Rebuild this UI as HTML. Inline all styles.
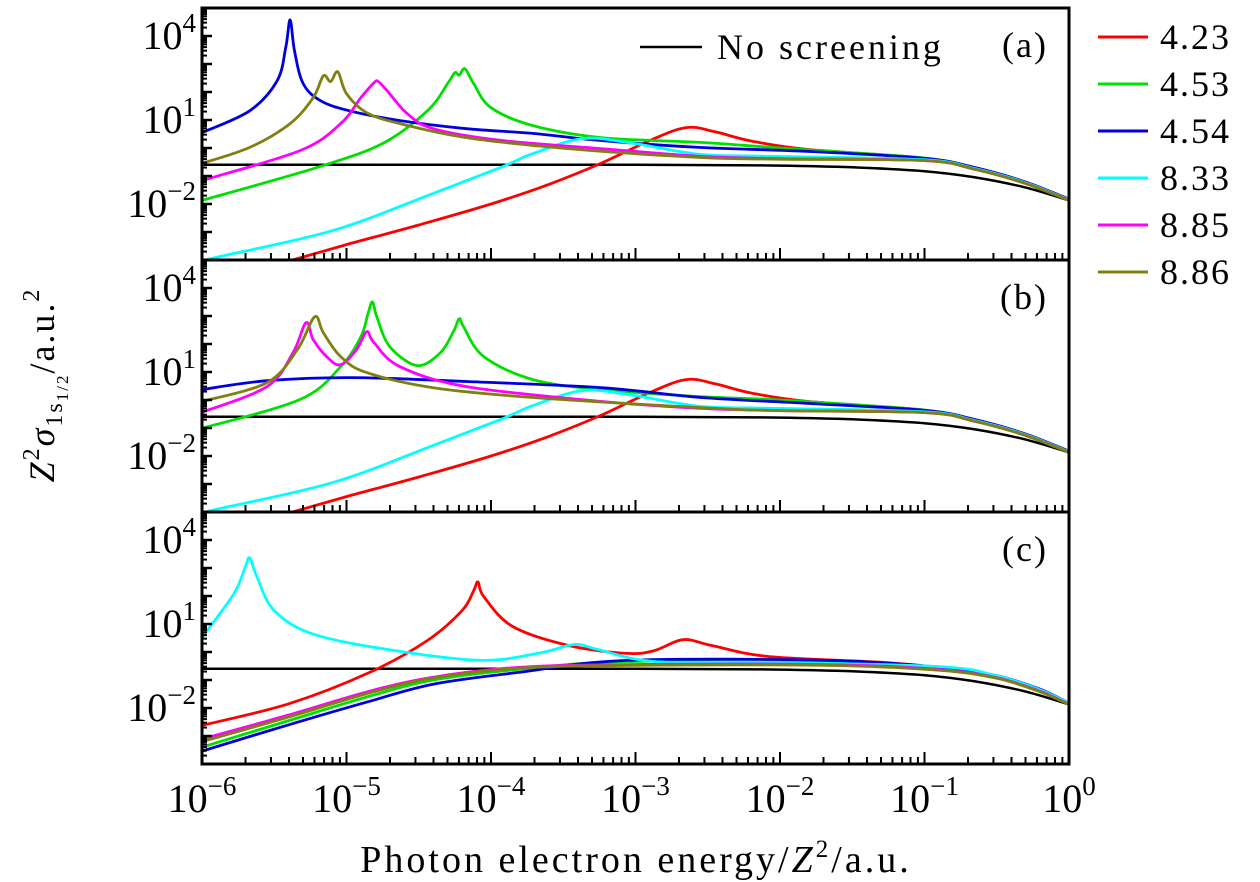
<!DOCTYPE html>
<html><head><meta charset="utf-8">
<style>
body{margin:0;background:#fff;}
svg{display:block;font-family:"Liberation Serif","DejaVu Serif",serif;}
</style></head>
<body>
<svg id="chart" width="1260" height="882" viewBox="0 0 1260 882"></svg>
<script>
// ---- data (log10 energy, log10 Z^2 sigma) ----
const panels = ["a","b","c"];
const legendLabels = ["4.23","4.53","4.54","8.33","8.85","8.86"];
const seriesColors = ["#ff0000","#00e000","#0000dd","#00ffff","#ff00ff","#808010"];
const xTickExps = [-6,-5,-4,-3,-2,-1,0];
const yTickExps = [4,1,-2];

const noScrLogE = [-6,-3,-2,-1.5,-1,-0.66,-0.31,0];
const noScrLogS = [-0.6,-0.6,-0.63,-0.69,-0.83,-1.04,-1.4,-1.87];

// panel (a)
const aRedE = [-5.6,-5.34,-5,-4.5,-4,-3.6,-3.24,-2.9,-2.65,-2.45,-2.2,-1.81,-1,-0.66,-0.31,0];
const aRedS = [-4.35,-3.95,-3.45,-2.75,-2.0,-1.3,-0.55,0.27,0.73,0.58,0.25,-0.05,-0.36,-0.69,-1.2,-1.83];
const aGreenE = [-6,-5.2,-4.75,-4.44,-4.3,-4.25,-4.22,-4.18,-4.12,-4.0,-3.71,-3.24,-2.55,-2,-1,-0.66,-0.31,0];
const aGreenS = [-1.87,-0.69,0.16,1.33,2.3,2.69,2.6,2.83,2.3,1.44,0.8,0.37,0.2,0.0,-0.36,-0.7,-1.22,-1.84];
const aBlueE = [-6,-5.67,-5.48,-5.42,-5.39,-5.36,-5.3,-5.18,-4.98,-4.63,-4.17,-3.71,-3.25,-2.56,-1.81,-1,-0.66,-0.31,0];
const aBlueS = [0.55,1.33,2.4,3.6,4.57,3.47,2.3,1.69,1.33,0.98,0.69,0.52,0.27,0.02,-0.12,-0.37,-0.69,-1.2,-1.83];
const aCyanE = [-6.1,-5.92,-5.09,-4.4,-3.93,-3.71,-3.36,-3.01,-2.55,-2,-1,-0.66,-0.31,0];
const aCyanS = [-4.2,-3.93,-2.94,-1.62,-0.69,-0.2,0.34,0.16,-0.23,-0.3,-0.42,-0.72,-1.22,-1.85];
const aMagE = [-6,-5.32,-5.04,-4.9,-4.81,-4.78,-4.72,-4.58,-4.4,-3.93,-3.24,-2.55,-2,-1,-0.66,-0.31,0];
const aMagS = [-1.16,-0.09,0.87,1.8,2.33,2.37,2.05,1.23,0.69,0.27,-0.02,-0.3,-0.38,-0.45,-0.75,-1.25,-1.87];
const aOliveE = [-6,-5.67,-5.39,-5.23,-5.16,-5.11,-5.06,-5.0,-4.86,-4.63,-4.17,-3.47,-2.55,-2,-1,-0.66,-0.31,0];
const aOliveS = [-0.55,0.02,0.87,1.8,2.58,2.37,2.72,1.94,1.26,0.87,0.37,-0.02,-0.34,-0.4,-0.45,-0.75,-1.25,-1.87];

// panel (b)
const bGreenE = [-6,-5.32,-5.04,-4.9,-4.85,-4.82,-4.79,-4.7,-4.51,-4.35,-4.26,-4.22,-4.19,-4.05,-3.71,-3.24,-2.55,-2,-1,-0.66,-0.31,0];
const bGreenS = [-1.01,0.02,1.19,2.26,3.11,3.5,2.97,1.9,1.23,1.69,2.44,2.9,2.62,1.55,0.73,0.37,0.12,0.0,-0.36,-0.7,-1.22,-1.84];
const bBlueE = [-6,-5.55,-4.97,-4.17,-3.24,-2.55,-1.81,-1,-0.66,-0.31,0];
const bBlueS = [0.37,0.69,0.8,0.66,0.44,0.09,-0.12,-0.37,-0.69,-1.2,-1.83];
const bMagE = [-6,-5.55,-5.37,-5.28,-5.23,-5.13,-5.04,-4.93,-4.86,-4.81,-4.63,-4.17,-3.24,-2.55,-2,-1,-0.66,-0.31,0];
const bMagS = [-0.44,0.48,1.69,2.76,2.15,1.51,1.26,1.8,2.44,2.05,1.19,0.48,-0.05,-0.3,-0.38,-0.45,-0.75,-1.25,-1.87];
const bOliveE = [-6,-5.55,-5.34,-5.22,-5.16,-5.04,-4.86,-4.4,-3.71,-2.55,-2,-1,-0.66,-0.31,0];
const bOliveS = [-0.05,0.62,1.8,2.97,2.4,1.55,0.98,0.44,0.09,-0.27,-0.38,-0.45,-0.75,-1.25,-1.87];

// panel (c)
const cRedE = [-6,-5.4,-4.84,-4.44,-4.2,-4.12,-4.09,-4.05,-3.85,-3.46,-3.06,-2.87,-2.67,-2.47,-2.08,-1.29,-0.9,-0.5,-0.2,0];
const cRedS = [-2.62,-1.85,-0.73,0.41,1.48,2.19,2.5,1.98,0.91,0.23,-0.05,0.05,0.44,0.23,-0.16,-0.37,-0.55,-0.85,-1.35,-1.83];
const cGreenE = [-6,-5.4,-4.84,-4.4,-3.81,-3.06,-1.68,-0.9,-0.5,-0.2,0];
const cGreenS = [-3.4,-2.45,-1.58,-1.0,-0.62,-0.34,-0.37,-0.6,-0.9,-1.38,-1.85];
const cBlueE = [-6,-5.4,-4.84,-4.4,-3.81,-3.06,-1.68,-0.9,-0.5,-0.2,0];
const cBlueS = [-3.54,-2.6,-1.76,-1.15,-0.73,-0.3,-0.3,-0.55,-0.85,-1.33,-1.83];
const cCyanE = [-6,-5.78,-5.7,-5.67,-5.62,-5.5,-5.22,-4.63,-4.05,-3.65,-3.42,-3.26,-2.87,-2.08,-0.9,-0.5,-0.2,0];
const cCyanS = [0.52,2.08,3.04,3.36,2.69,1.48,0.62,0.02,-0.3,-0.02,0.27,0.09,-0.34,-0.37,-0.52,-0.85,-1.35,-1.83];
const cMagE = [-6,-5.4,-4.84,-4.4,-3.81,-3.06,-1.68,-0.9,-0.5,-0.2,0];
const cMagS = [-3.11,-2.25,-1.4,-0.9,-0.55,-0.45,-0.45,-0.62,-0.92,-1.4,-1.87];
const cOliveE = [-6,-5.4,-4.84,-4.4,-3.81,-3.06,-1.68,-0.9,-0.5,-0.2,0];
const cOliveS = [-3.2,-2.32,-1.46,-0.93,-0.58,-0.48,-0.48,-0.65,-0.94,-1.42,-1.88];

const panelSeries = [
  [[aRedE,aRedS,0],[aGreenE,aGreenS,1],[aBlueE,aBlueS,2],[aCyanE,aCyanS,3],[aMagE,aMagS,4],[aOliveE,aOliveS,5]],
  [[aRedE,aRedS,0],[bGreenE,bGreenS,1],[bBlueE,bBlueS,2],[aCyanE,aCyanS,3],[bMagE,bMagS,4],[bOliveE,bOliveS,5]],
  [[cRedE,cRedS,0],[cGreenE,cGreenS,1],[cBlueE,cBlueS,2],[cCyanE,cCyanS,3],[cMagE,cMagS,4],[cOliveE,cOliveS,5]]
];

const NS='http://www.w3.org/2000/svg';
const svg=document.getElementById('chart');
const X0=202, X1=1069, tops=[8,260,512], PH=252;
const xS=e=>X0+(e+6)*(X1-X0)/6;
const yS=(l,t)=>t+(5-l)*PH/9;
function mk(tag,attrs,parent){const el=document.createElementNS(NS,tag);for(const k in attrs)el.setAttribute(k,attrs[k]);(parent||svg).appendChild(el);return el;}
function pathFrom(pts){
  let d='M'+pts[0][0].toFixed(1)+','+pts[0][1].toFixed(1);
  for(let i=0;i<pts.length-1;i++){
    const p0=pts[Math.max(0,i-1)],p1=pts[i],p2=pts[i+1],p3=pts[Math.min(pts.length-1,i+2)];
    const k=1/6;
    const c1=[p1[0]+(p2[0]-p0[0])*k,p1[1]+(p2[1]-p0[1])*k];
    const c2=[p2[0]-(p3[0]-p1[0])*k,p2[1]-(p3[1]-p1[1])*k];
    d+=' C'+c1.map(v=>v.toFixed(1))+' '+c2.map(v=>v.toFixed(1))+' '+p2[0].toFixed(1)+','+p2[1].toFixed(1);
  }
  return d;
}
const defs=mk('defs',{});
panels.forEach((p,pi)=>{
  const t=tops[pi];
  const cp=mk('clipPath',{id:'clip'+p},defs);
  mk('rect',{x:X0,y:t,width:X1-X0,height:PH},cp);
  const g=mk('g',{'clip-path':'url(#clip'+p+')'});
  
  
  const ns=mk('path',{d:pathFrom(noScrLogE.map((e,i)=>[xS(e),yS(noScrLogS[i],t)])),fill:'none',stroke:'#000','stroke-width':2.5},g);
  
  
  panelSeries[pi].forEach(([E,S,ci])=>{
    const el=mk('path',{d:pathFrom(E.map((e,i)=>[xS(e),yS(S[i],t)])),fill:'none',stroke:seriesColors[ci],'stroke-width':2.8,'stroke-linejoin':'round'},g);
    
    
  });
  const fr=mk('rect',{x:X0,y:t,width:X1-X0,height:PH,fill:'none',stroke:'#000','stroke-width':3});
  
  
  for(let d=-4;d<=5;d++){
    for(let m=1;m<10;m++){
      const l=d+Math.log10(m); if(l>5) continue;
      const y=yS(l,t); const len=m===1?10:5;
      mk('line',{x1:X0,x2:X0+len,y1:y,y2:y,stroke:'#000','stroke-width':m===1?2.5:2});
    }
  }
  yTickExps.forEach(v=>{
    const tx=mk('text',{x:196,y:yS(v,t)+13,'text-anchor':'end','font-size':40});
    
    
    tx.innerHTML='10<tspan dy="-17" font-size="27">'+v.toString().replace('-','−')+'</tspan>';
  });
  for(let d=-6;d<0;d++){
    for(let m=1;m<10;m++){
      const x=xS(d+Math.log10(m)); const len=m===1?12:7;
      mk('line',{x1:x,x2:x,y1:t+PH,y2:t+PH-len,stroke:'#000','stroke-width':2});
    }
  }
  const lab=mk('text',{x:1048,y:t+49,'text-anchor':'end','font-size':36,'letter-spacing':2});
  
  
  lab.textContent='('+p+')';
});
xTickExps.forEach(v=>{
  const tx=mk('text',{x:xS(v),y:812,'text-anchor':'middle','font-size':40});
  
  
  tx.innerHTML='10<tspan dy="-17" font-size="27">'+v.toString().replace('-','−')+'</tspan>';
});
const xt=mk('text',{x:636,y:872,'text-anchor':'middle','font-size':38,'letter-spacing':3});


xt.innerHTML='Photon electron energy/<tspan font-style="italic">Z</tspan><tspan dy="-15" font-size="25">2</tspan><tspan dy="15">/a.u.</tspan>';
const yt=mk('text',{x:0,y:0,'text-anchor':'middle','font-size':36,'letter-spacing':2,transform:'translate(54,385) rotate(-90)'});


yt.innerHTML='<tspan font-style="italic">Z</tspan><tspan dy="-15" font-size="24">2</tspan><tspan dy="15" font-style="italic">σ</tspan><tspan dy="8" font-size="24">1s</tspan><tspan dy="6" font-size="17">1/2</tspan><tspan dy="-14">/a.u.</tspan><tspan dy="-15" font-size="24">2</tspan>';
const nl=mk('line',{x1:640,x2:702,y1:47,y2:47,stroke:'#000','stroke-width':2.5});


const nt=mk('text',{x:717,y:59,'font-size':36,'letter-spacing':3});


nt.textContent='No screening';
legendLabels.forEach((lb,i)=>{
  const y=37+i*47;
  const ln=mk('line',{x1:1098,x2:1148,y1:y,y2:y,stroke:seriesColors[i],'stroke-width':3});
  
  
  const tx=mk('text',{x:1160,y:y+12,'font-size':36,'letter-spacing':2});
  
  
  tx.textContent=lb;
});
</script>
</body></html>
